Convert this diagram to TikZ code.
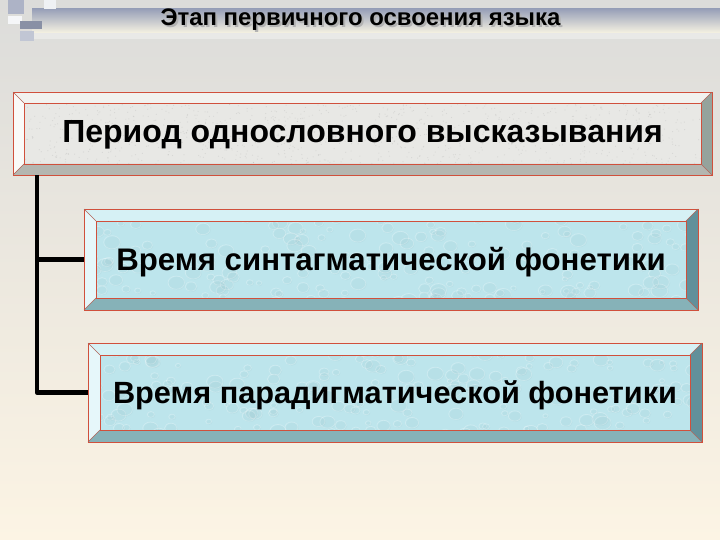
\documentclass[tikz,border=0pt]{standalone}
\usepackage{fontspec}
\setmainfont{Liberation Sans}
\usetikzlibrary{calc}
\definecolor{bgtop}{HTML}{DCDCDA}
\definecolor{bgbot}{HTML}{FCF4E4}
\definecolor{bartop}{HTML}{98A0B8}
\definecolor{barbot}{HTML}{F6F2E2}
\definecolor{redline}{HTML}{D0503C}
\definecolor{gface}{HTML}{E8E8E5}
\definecolor{gtop}{HTML}{F2F2EF}
\definecolor{gleft}{HTML}{FAFAF8}
\definecolor{gright}{HTML}{95A39C}
\definecolor{gbot}{HTML}{B4B6B0}
\definecolor{bface}{HTML}{BDE5EC}
\definecolor{btop}{HTML}{D6F1F5}
\definecolor{bleft}{HTML}{E6F7FA}
\definecolor{bright}{HTML}{62909A}
\definecolor{bbot}{HTML}{86B2B8}
\tikzset{
  boxnode/.style={rectangle, inner sep=0pt, outer sep=0pt, font=\bfseries},
  conn/.style={line width=4.5pt, black, line join=round},
  redl/.style={draw=redline, line width=0.9pt},
}
\newcommand{\shadowed}[1]{\makebox[0pt][l]{\hspace{2pt}\raisebox{-2pt}{\textcolor{gray!60}{#1}}}#1}
% #1 name, #2 bevel, #3 top, #4 left, #5 right, #6 bottom
\newcommand{\bevels}[6]{%
  \fill[#3] (#1.north west) -- (#1.north east) -- ($(#1.north east)+(-#2,#2)$) -- ($(#1.north west)+(#2,#2)$) -- cycle;
  \fill[#4] (#1.north west) -- ($(#1.north west)+(#2,#2)$) -- ($(#1.south west)+(#2,-#2)$) -- (#1.south west) -- cycle;
  \fill[#5] (#1.north east) -- ($(#1.north east)+(-#2,#2)$) -- ($(#1.south east)+(-#2,-#2)$) -- (#1.south east) -- cycle;
  \fill[#6] (#1.south west) -- ($(#1.south west)+(#2,-#2)$) -- ($(#1.south east)+(-#2,-#2)$) -- (#1.south east) -- cycle;
  \draw[redl] (#1.north west) rectangle (#1.south east);
  \draw[redl] ($(#1.north west)+(#2,#2)$) rectangle ($(#1.south east)+(-#2,-#2)$);
  \draw[redline!60!gray, line width=0.5pt] (#1.north west) -- ($(#1.north west)+(#2,#2)$)
     (#1.north east) -- ($(#1.north east)+(-#2,#2)$)
     (#1.south west) -- ($(#1.south west)+(#2,-#2)$)
     (#1.south east) -- ($(#1.south east)+(-#2,-#2)$);
}
% drops texture inside a face: #1 name, #2 bevel
\newcommand{\drops}[2]{%
  \begin{scope}
  \clip ($(#1.north west)+(#2,#2)$) rectangle ($(#1.south east)+(-#2,-#2)$);
  \path let \p1=(#1.north west), \p2=(#1.south east) in
    \pgfextra{\xdef\xa{\x1}\xdef\ya{\y1}\xdef\xb{\x2}\xdef\yb{\y2}};
  \foreach \i in {1,...,220}{
    \pgfmathsetmacro{\rx}{\xa+rnd*(\xb-\xa)}
    \pgfmathsetmacro{\ry}{\yb+rnd*(\ya-\yb)}
    \pgfmathsetmacro{\rr}{2.5+rnd*6}
    \fill[bright, opacity=0.06] ([xshift=0.8pt,yshift=-0.8pt]\rx pt,\ry pt) ellipse ({\rr pt} and {0.8*\rr pt});
    \draw[white, opacity=0.25, line width=0.7pt] (\rx pt,\ry pt) ellipse ({\rr pt} and {0.8*\rr pt});
  }
  \end{scope}
}
\newcommand{\granite}[2]{%
  \begin{scope}
  \clip ($(#1.north west)+(#2,#2)$) rectangle ($(#1.south east)+(-#2,-#2)$);
  \path let \p1=(#1.north west), \p2=(#1.south east) in
    \pgfextra{\xdef\xa{\x1}\xdef\ya{\y1}\xdef\xb{\x2}\xdef\yb{\y2}};
  \foreach \i in {1,...,1400}{
    \pgfmathsetmacro{\rx}{\xa+rnd*(\xb-\xa)}
    \pgfmathsetmacro{\ry}{\yb+rnd*(\ya-\yb)}
    \fill[gray, opacity=0.16] (\rx pt,\ry pt) circle (0.6pt);
  }
  \end{scope}
}
\begin{document}
\begin{tikzpicture}[x=1pt,y=-1pt]
\pgfmathsetseed{7}
\useasboundingbox (0,0) rectangle (720,540);
\fill[top color=bgtop, bottom color=bgbot] (0,0) rectangle (720,540);
% title bar
\fill[top color=bartop, bottom color=barbot] (32,9) rectangle (720,33);
\fill[white, opacity=0.35] (32,33) rectangle (720,39);
% decorative squares
\fill[bartop!80!white] (8,0) rectangle (24,14);
\fill[white!85!bartop] (44,0) rectangle (56,9);
\fill[white!90!bartop] (8,16) rectangle (22,24);
\fill[bartop!90!black] (20,21) rectangle (42,29);
\fill[bartop!60!white] (20,31) rectangle (34,41);
% title
\node[font=\fontsize{23.9}{27}\selectfont\bfseries, text=black] (title) at (360.5,20.5) {\shadowed{Этап первичного освоения языка}};
% boxes
\node[boxnode, fill=gface, minimum width=699pt, minimum height=83pt] (b1) at (362.5,133.5) {};
\granite{b1}{11}
\bevels{b1}{11}{gtop}{gleft}{gright}{gbot}
\node[boxnode, font=\fontsize{32}{36}\selectfont\bfseries] (t1) at ($(b1.center)+(0,1.5)$) {Период однословного высказывания};
\node[boxnode, fill=bface, minimum width=614pt, minimum height=101pt] (b2) at (391,259.5) {};
\drops{b2}{12}
\bevels{b2}{12}{btop}{bleft}{bright}{bbot}
\node[boxnode, font=\fontsize{31.2}{35}\selectfont\bfseries] (t2) at ($(b2.center)+(0,2.5)$) {Время синтагматической фонетики};
\node[boxnode, fill=bface, minimum width=614pt, minimum height=99pt] (b3) at (395,392.5) {};
\drops{b3}{12}
\bevels{b3}{12}{btop}{bleft}{bright}{bbot}
\node[boxnode, font=\fontsize{30.7}{35}\selectfont\bfseries] (t3) at ($(b3.center)+(0,2.5)$) {Время парадигматической фонетики};
% connectors
\coordinate (trunk) at ($(b1.south west)+(24,0)$);
\draw[conn] (trunk) |- (b3.west);
\draw[conn] (trunk |- b2.west) -- (b2.west);
\end{tikzpicture}
\end{document}
